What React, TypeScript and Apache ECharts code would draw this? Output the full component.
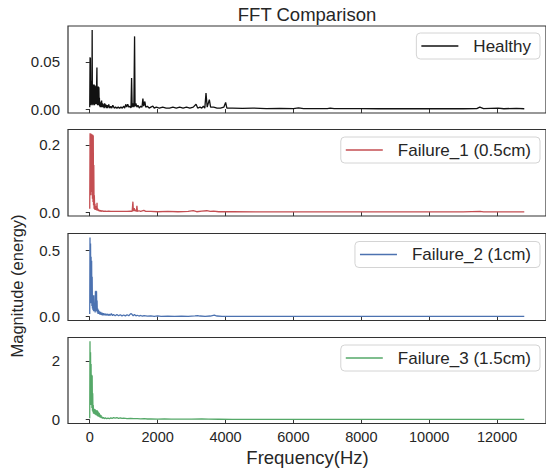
import React, { useEffect, useRef } from "react";
import * as echarts from "echarts";

// Frequency ticks (Hz)
const xTicks = [0, 2000, 4000, 6000, 8000, 10000, 12000];

// [frequency Hz, magnitude]
const healthy: [number, number][] = [
  [0, 0.002], [10, 0.055], [15, 0.004], [20, 0.054], [28, 0.006], [35, 0.03], [42, 0.004], [50, 0.026], [58, 0.005],
  [65, 0.02], [72, 0.0838], [78, 0.006], [85, 0.025], [92, 0.004], [100, 0.026], [108, 0.006], [115, 0.024], [122, 0.005],
  [130, 0.026], [138, 0.004], [145, 0.022], [152, 0.006], [160, 0.025], [168, 0.005], [175, 0.024], [182, 0.006],
  [190, 0.02], [198, 0.005], [205, 0.03], [212, 0.044], [218, 0.005], [225, 0.024], [232, 0.004], [240, 0.023],
  [248, 0.005], [255, 0.024], [262, 0.004], [270, 0.023], [278, 0.005], [285, 0.012], [292, 0.003], [300, 0.008],
  [310, 0.002], [320, 0.007], [335, 0.002], [350, 0.009], [365, 0.002], [380, 0.006], [395, 0.002], [410, 0.005],
  [425, 0.001], [440, 0.006], [455, 0.002], [470, 0.005], [490, 0.001], [510, 0.004], [530, 0.001], [560, 0.005],
  [590, 0.001], [620, 0.003], [650, 0.001], [680, 0.004], [720, 0.001], [760, 0.002], [800, 0.001], [840, 0.002],
  [880, 0.001], [920, 0.002], [960, 0.001], [1000, 0.003], [1030, 0.001], [1060, 0.005], [1090, 0.002], [1120, 0.005],
  [1150, 0.002], [1190, 0.003], [1215, 0.001], [1233, 0.033], [1250, 0.002], [1275, 0.006], [1300, 0.002],
  [1321, 0.077], [1335, 0.003], [1360, 0.006], [1390, 0.002], [1420, 0.004], [1460, 0.001], [1500, 0.003],
  [1540, 0.002], [1566, 0.011], [1590, 0.003], [1624, 0.008], [1650, 0.002], [1700, 0.003], [1750, 0.001],
  [1800, 0.002], [1860, 0.003], [1900, 0.001], [1960, 0.002], [2050, 0.001], [2150, 0.002], [2250, 0.001],
  [2350, 0.001], [2450, 0.002], [2550, 0.001], [2650, 0.002], [2750, 0.001], [2850, 0.002], [2950, 0.001],
  [3050, 0.002], [3132, 0.005], [3180, 0.001], [3250, 0.002], [3300, 0.001], [3347, 0.003], [3390, 0.001],
  [3425, 0.017], [3460, 0.002], [3523, 0.01], [3560, 0.002], [3650, 0.002], [3750, 0.001], [3850, 0.001],
  [3950, 0.002], [4003, 0.007], [4040, 0.001], [4200, 0.001], [4500, 0.0008], [4800, 0.001], [5200, 0.0005],
  [5600, 0.0008], [6000, 0.0005], [6150, 0.0012], [6300, 0.0005], [7000, 0.0004], [7085, 0.001], [7200, 0.0004],
  [8000, 0.0004], [8500, 0.0003], [9000, 0.0003], [9500, 0.0003], [10000, 0.0003], [10500, 0.0003], [11000, 0.0003],
  [11400, 0.0004], [11490, 0.002], [11600, 0.0004], [12028, 0.001], [12200, 0.0003], [12566, 0.0008], [12800, 0.0003],
];

const failure1: [number, number][] = [
  [0, 0.01], [10, 0.2345], [18, 0.05], [25, 0.234], [32, 0.06], [40, 0.233], [48, 0.07], [56, 0.232], [64, 0.05],
  [72, 0.231], [80, 0.04], [88, 0.23], [96, 0.03], [104, 0.228], [112, 0.02], [120, 0.14], [128, 0.01], [136, 0.05],
  [145, 0.008], [155, 0.025], [165, 0.006], [175, 0.018], [185, 0.006], [195, 0.01], [205, 0.005], [215, 0.028],
  [222, 0.005], [230, 0.012], [240, 0.004], [255, 0.008], [270, 0.003], [290, 0.006], [310, 0.002], [330, 0.005],
  [350, 0.002], [380, 0.004], [410, 0.002], [450, 0.003], [500, 0.002], [560, 0.003], [620, 0.002], [700, 0.002],
  [800, 0.002], [900, 0.002], [1000, 0.002], [1100, 0.002], [1200, 0.003], [1250, 0.002], [1272, 0.031],
  [1285, 0.003], [1310, 0.012], [1330, 0.003], [1360, 0.006], [1375, 0.002], [1390, 0.019], [1405, 0.002],
  [1450, 0.004], [1500, 0.002], [1594, 0.005], [1650, 0.002], [1800, 0.002], [2000, 0.001], [2300, 0.002],
  [2600, 0.001], [2900, 0.002], [3050, 0.004], [3150, 0.001], [3300, 0.003], [3450, 0.004], [3550, 0.002],
  [3650, 0.003], [3800, 0.001], [4200, 0.001], [5000, 0.0008], [6000, 0.0008], [7000, 0.0006], [8000, 0.0006],
  [9000, 0.0005], [10000, 0.0005], [11000, 0.0005], [11500, 0.002], [11600, 0.0005], [12000, 0.0005], [12800, 0.0005],
];

const failure2: [number, number][] = [
  [0, 0.02], [8, 0.596], [16, 0.1], [24, 0.55], [32, 0.15], [40, 0.45], [48, 0.1], [56, 0.42], [64, 0.08],
  [72, 0.3], [80, 0.06], [88, 0.16], [96, 0.05], [104, 0.15], [112, 0.04], [120, 0.16], [128, 0.05], [136, 0.1],
  [144, 0.04], [152, 0.08], [160, 0.03], [168, 0.19], [176, 0.05], [184, 0.195], [192, 0.04], [200, 0.19],
  [208, 0.05], [216, 0.12], [224, 0.03], [235, 0.06], [245, 0.02], [258, 0.05], [270, 0.02], [285, 0.04],
  [300, 0.015], [320, 0.035], [340, 0.012], [360, 0.03], [380, 0.01], [400, 0.025], [425, 0.01], [450, 0.022],
  [480, 0.008], [510, 0.02], [540, 0.008], [570, 0.018], [600, 0.008], [636, 0.022], [670, 0.007], [700, 0.015],
  [750, 0.006], [800, 0.015], [850, 0.006], [900, 0.014], [950, 0.005], [1000, 0.012], [1050, 0.005], [1100, 0.014],
  [1150, 0.006], [1200, 0.02], [1223, 0.022], [1250, 0.015], [1280, 0.006], [1320, 0.015], [1360, 0.005],
  [1400, 0.01], [1450, 0.004], [1500, 0.008], [1550, 0.003], [1600, 0.007], [1700, 0.003], [1800, 0.005],
  [1900, 0.002], [2000, 0.005], [2100, 0.002], [2300, 0.003], [2500, 0.002], [2700, 0.003], [2900, 0.002],
  [3100, 0.005], [3181, 0.007], [3250, 0.004], [3400, 0.002], [3550, 0.004], [3670, 0.01], [3750, 0.004],
  [3900, 0.002], [4100, 0.002], [4500, 0.0015], [5000, 0.0015], [6000, 0.001], [7000, 0.001], [8000, 0.001],
  [9000, 0.001], [10000, 0.001], [11000, 0.001], [12000, 0.001], [12800, 0.001],
];

const failure3: [number, number][] = [
  [0, 0.05], [8, 2.668], [16, 0.5], [24, 2.3], [32, 0.6], [40, 1.9], [48, 0.5], [56, 1.53], [64, 0.4], [72, 1.5],
  [80, 0.3], [88, 0.9], [96, 0.25], [104, 0.5], [112, 0.2], [120, 0.38], [130, 0.2], [140, 0.36], [150, 0.18],
  [160, 0.35], [170, 0.17], [180, 0.33], [190, 0.15], [200, 0.3], [210, 0.14], [220, 0.32], [230, 0.12], [240, 0.28],
  [250, 0.1], [260, 0.25], [270, 0.1], [280, 0.22], [290, 0.08], [300, 0.18], [315, 0.07], [330, 0.15], [345, 0.05],
  [360, 0.1], [380, 0.04], [400, 0.08], [430, 0.03], [460, 0.06], [500, 0.03], [540, 0.05], [580, 0.03], [620, 0.06],
  [660, 0.04], [700, 0.07], [750, 0.05], [800, 0.065], [850, 0.045], [900, 0.06], [950, 0.04], [1000, 0.05],
  [1100, 0.035], [1200, 0.045], [1300, 0.03], [1400, 0.035], [1500, 0.025], [1600, 0.03], [1700, 0.02],
  [1800, 0.025], [2000, 0.018], [2200, 0.02], [2400, 0.015], [2600, 0.018], [2800, 0.014], [3000, 0.016],
  [3300, 0.02], [3500, 0.014], [3800, 0.012], [4200, 0.01], [4800, 0.008], [5500, 0.007], [6500, 0.006],
  [7500, 0.006], [8500, 0.005], [9500, 0.005], [10500, 0.005], [11500, 0.005], [12800, 0.005],
];

const seriesNames = ["Healthy", "Failure_1 (0.5cm)", "Failure_2 (1cm)", "Failure_3 (1.5cm)"];
const seriesData = [healthy, failure1, failure2, failure3];
const yTickSets = [[0, 0.05], [0, 0.2], [0, 0.5], [0, 2]];
const yDigits = [2, 1, 1, 0];
const yRanges: [number, number][] = [[-0.0042, 0.088], [-0.0117, 0.246], [-0.0298, 0.626], [-0.133, 2.8]];

// layout / style
const colors = ["#111111", "#c44e52", "#4c72b0", "#55a868"];
const gridTops = [26, 129.5, 233.5, 337.5];
const gridHeights = [87, 86.5, 87, 86];
const legendTops = [33, 137, 241.5, 345];
const textColor = "#262626";
const font = "Liberation Sans, Arial, sans-serif";

export default function App() {
  const ref = useRef<HTMLDivElement>(null);
  useEffect(() => {
    if (!ref.current) return;
    const chart = echarts.init(ref.current, undefined, { renderer: "svg" });
    const option: any = {
      animation: false,
      backgroundColor: "#ffffff",
      grid: gridTops.map((t, i) => ({
        left: 68,
        width: 480,
        top: t,
        height: gridHeights[i],
        show: true,
        borderColor: "#333333",
        borderWidth: 1.2,
        backgroundColor: "transparent",
      })),
      xAxis: gridTops.map((_, i) => ({
        type: "value",
        gridIndex: i,
        min: -640,
        max: 13440,
        axisLine: { show: false },
        splitLine: { show: false },
        axisTick: {
          show: true,
          customValues: xTicks,
          length: 4,
          lineStyle: { color: "#333333", width: 1 },
        },
        axisLabel: {
          show: i === 3,
          customValues: xTicks,
          formatter: (v: number) => String(v),
          fontSize: 14.5,
          fontFamily: font,
          color: textColor,
          margin: 6,
        },
      })),
      yAxis: gridTops.map((_, i) => ({
        type: "value",
        gridIndex: i,
        min: yRanges[i][0],
        max: yRanges[i][1],
        axisLine: { show: false },
        splitLine: { show: false },
        axisTick: {
          show: true,
          customValues: yTickSets[i],
          length: 4,
          lineStyle: { color: "#333333", width: 1 },
        },
        axisLabel: {
          customValues: yTickSets[i],
          formatter: (v: number) => v.toFixed(yDigits[i]),
          fontSize: 15,
          fontFamily: font,
          color: textColor,
          margin: 8,
        },
      })),
      legend: seriesNames.map((n, i) => ({
        data: [n],
        right: 6,
        top: legendTops[i],
        icon: "rect",
        itemWidth: 37,
        itemHeight: 1.5,
        padding: [3, 9, 3, 5],
        borderColor: "#d4d4d4",
        borderWidth: 1,
        borderRadius: 4,
        backgroundColor: "rgba(255,255,255,0.8)",
        selectedMode: false,
        textStyle: {
          fontSize: 17,
          fontFamily: font,
          color: textColor,
          lineHeight: 20,
          padding: [0, 0, 0, 10],
        },
      })),
      series: seriesNames.map((n, i) => ({
        name: n,
        type: "line",
        xAxisIndex: i,
        yAxisIndex: i,
        data: seriesData[i],
        symbol: "none",
        showSymbol: false,
        color: colors[i],
        lineStyle: { color: colors[i], width: 1.3 },
        itemStyle: { color: colors[i] },
        clip: true,
      })),
      graphic: [
        {
          type: "text",
          x: 307,
          y: 14,
          style: {
            text: "FFT Comparison",
            fontSize: 18.5,
            fontFamily: font,
            fill: textColor,
            align: "center",
            verticalAlign: "middle",
          },
        },
        {
          type: "text",
          x: 307.5,
          y: 457,
          style: {
            text: "Frequency(Hz)",
            fontSize: 18.5,
            fontFamily: font,
            fill: textColor,
            align: "center",
            verticalAlign: "middle",
          },
        },
        {
          type: "text",
          x: 17,
          y: 286,
          rotation: Math.PI / 2,
          style: {
            text: "Magnitude (energy)",
            fontSize: 16.5,
            fontFamily: font,
            fill: textColor,
            align: "center",
            verticalAlign: "middle",
          },
        },
      ],
    };
    chart.setOption(option);
    return () => chart.dispose();
  }, []);
  return (
    <div
      ref={ref}
      style={{ position: "fixed", left: 0, top: 0, width: 546, height: 471, background: "#fff" }}
    />
  );
}
